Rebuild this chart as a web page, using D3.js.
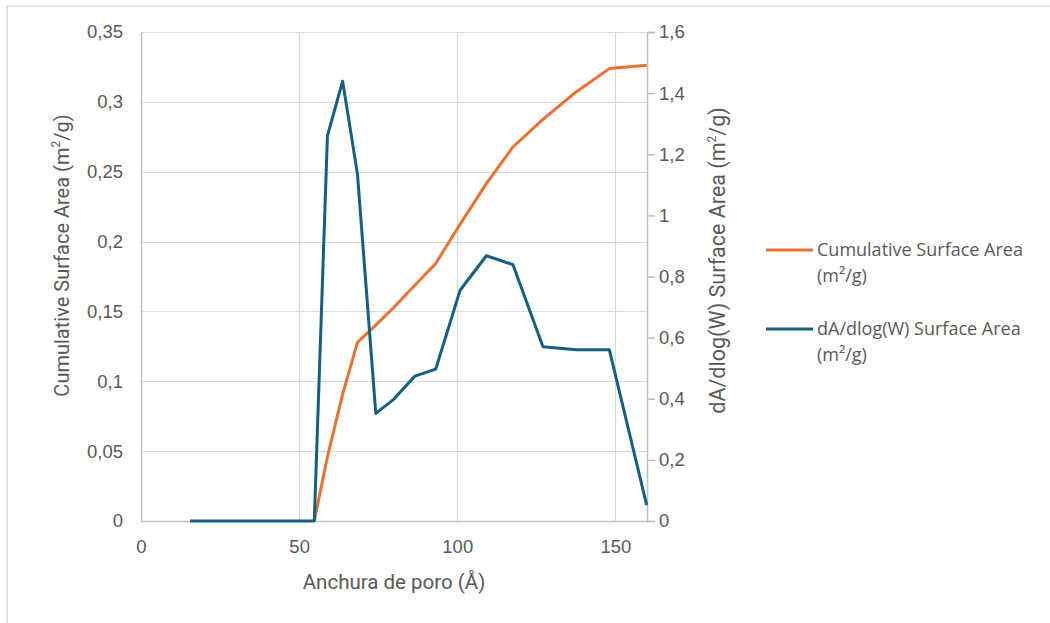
<!DOCTYPE html>
<html>
<head>
<meta charset="utf-8">
<script src="https://cdn.jsdelivr.net/npm/d3@7"></script>
<style>
  html, body { margin: 0; padding: 0; background: #fff; }
  svg { display: block; }
</style>
</head>
<body>
<svg id="chart" width="1050" height="623"></svg>
<script>
// ---- data ----
const poreWidth = [15.5, 25, 35, 45, 54.8, 58.95, 63.76, 68.45, 74.24, 79.9, 86.6, 93.2, 100.9, 109.2, 117.6, 127.1, 137.6, 148.1, 159.9];
const cumulativeArea = [0, 0, 0, 0, 0, 0.046, 0.0908, 0.1278, 0.1402, 0.1528, 0.1688, 0.1843, 0.2124, 0.2415, 0.2677, 0.2875, 0.3071, 0.3238, 0.3262];
const dAdlogW = [0, 0, 0, 0, 0, 1.26, 1.439, 1.135, 0.352, 0.398, 0.474, 0.497, 0.755, 0.868, 0.839, 0.570, 0.560, 0.560, 0.052];
const xTicks = [0, 50, 100, 150];
const leftTicks = [0, 0.05, 0.1, 0.15, 0.2, 0.25, 0.3, 0.35];
const rightTicks = [0, 0.2, 0.4, 0.6, 0.8, 1, 1.2, 1.4, 1.6];
const seriesNames = ["Cumulative Surface Area", "dA/dlog(W) Surface Area"];
const seriesColors = ["#E97132", "#156082"];

// ---- layout ----
const svg = d3.select("#chart");
const plot = { left: 141, right: 647, top: 32, bottom: 521 };
const fmt = d => String(d).replace(".", ",");

// outer border
svg.append("path").attr("d", "M7,623 V6 H1050").attr("fill", "none")
  .attr("stroke", "#d9d9d9").attr("stroke-width", 1.5);

const x = d3.scaleLinear().domain([0, 160]).range([plot.left, plot.right]);
const yL = d3.scaleLinear().domain([0, 0.35]).range([plot.bottom, plot.top]);
const yR = d3.scaleLinear().domain([0, 1.6]).range([plot.bottom, plot.top]);

// gridlines
const grid = svg.append("g");
grid.selectAll("line.h").data(leftTicks.slice(1)).join("line")
  .attr("x1", plot.left).attr("x2", plot.right)
  .attr("y1", d => Math.round(yL(d)) + 0.5).attr("y2", d => Math.round(yL(d)) + 0.5)
  .attr("stroke", "#d9d9d9").attr("stroke-width", 1.2);
grid.selectAll("line.v").data(xTicks.slice(1)).join("line")
  .attr("y1", plot.top).attr("y2", plot.bottom)
  .attr("x1", d => Math.round(x(d)) + 0.5).attr("x2", d => Math.round(x(d)) + 0.5)
  .attr("stroke", "#d9d9d9").attr("stroke-width", 1.2);

const tickFont = "'Liberation Sans', Arial, sans-serif";
const tickColor = "#595959";
const tickSize = 18.5;

// bottom axis
const xAxis = svg.append("g").attr("transform", `translate(0,${plot.bottom})`)
  .call(d3.axisBottom(x).tickValues(xTicks).tickSize(0).tickPadding(19).tickFormat(fmt));
xAxis.select(".domain").attr("stroke", "#bfbfbf").attr("stroke-width", 1.5);
xAxis.selectAll("text").attr("font-family", tickFont).attr("font-size", tickSize).attr("fill", tickColor);

// left axis
const lAxis = svg.append("g").attr("transform", `translate(${plot.left},0)`)
  .call(d3.axisLeft(yL).tickValues(leftTicks).tickSize(0).tickPadding(18).tickFormat(fmt));
lAxis.select(".domain").attr("stroke", "#bfbfbf").attr("stroke-width", 1.5);
lAxis.selectAll("text").attr("font-family", tickFont).attr("font-size", tickSize).attr("fill", tickColor);

// right axis
const rAxis = svg.append("g").attr("transform", `translate(${plot.right},0)`)
  .call(d3.axisRight(yR).tickValues(rightTicks).tickSize(8).tickPadding(4).tickFormat(fmt));
rAxis.select(".domain").attr("stroke", "#bfbfbf").attr("stroke-width", 1.5);
rAxis.selectAll("line").attr("stroke", "#bfbfbf").attr("stroke-width", 1.5);
rAxis.selectAll("text").attr("font-family", tickFont).attr("font-size", tickSize).attr("fill", tickColor);

// lines
const pts = poreWidth.map((w, i) => ({ w, c: cumulativeArea[i], d: dAdlogW[i] }));
const orangePts = pts.filter(p => p.w >= 54.8);
svg.append("path").datum(orangePts)
  .attr("d", d3.line().x(p => x(p.w)).y(p => yL(p.c)))
  .attr("fill", "none").attr("stroke", seriesColors[0]).attr("stroke-width", 3)
  .attr("stroke-linejoin", "round");
svg.append("path").datum(pts)
  .attr("d", d3.line().x(p => x(p.w)).y(p => yR(p.d)))
  .attr("fill", "none").attr("stroke", seriesColors[1]).attr("stroke-width", 3)
  .attr("stroke-linejoin", "round");

// axis titles
const titleFont = "Roboto, 'Liberation Sans', sans-serif";
function supTitle(g, main, tail) {
  g.append("tspan").text(main + "(m");
  g.append("tspan").attr("font-size", 12).attr("dy", -9).text("2");
  g.append("tspan").attr("dy", 9).text(tail);
}
const lt = svg.append("text")
  .attr("transform", `translate(69,${(plot.top + plot.bottom) / 2 - 21}) rotate(-90)`)
  .attr("text-anchor", "middle").attr("font-family", titleFont).attr("font-size", 20)
  .attr("fill", tickColor);
supTitle(lt, "Cumulative Surface Area ", "/g)");

const rt = svg.append("text")
  .attr("transform", `translate(725,${(plot.top + plot.bottom) / 2 - 16}) rotate(-90)`)
  .attr("text-anchor", "middle").attr("font-family", titleFont).attr("font-size", 21.5)
  .attr("fill", tickColor);
supTitle(rt, "dA/dlog(W) Surface Area ", "/g)");

svg.append("text").attr("x", 394).attr("y", 589).attr("text-anchor", "middle")
  .attr("font-family", titleFont).attr("font-size", 20.5).attr("fill", tickColor)
  .text("Anchura de poro (Å)");

// legend
const legFont = "'Open Sans', 'Noto Sans', sans-serif";
const legend = svg.append("g");
const legY = [250, 329];
seriesNames.forEach((name, i) => {
  const g = legend.append("g").attr("transform", `translate(766,${legY[i]})`);
  g.append("line").attr("x1", 0).attr("x2", 47).attr("y1", 0).attr("y2", 0)
    .attr("stroke", seriesColors[i]).attr("stroke-width", 3);
  const t = g.append("text").attr("x", 51).attr("y", 6)
    .attr("font-family", legFont).attr("font-size", 18).attr("fill", tickColor);
  t.append("tspan").attr("x", 51).attr("dy", 0).text(name);
  t.append("tspan").attr("x", 51).attr("dy", 26).text("(m²/g)");
});
</script>
</body>
</html>
